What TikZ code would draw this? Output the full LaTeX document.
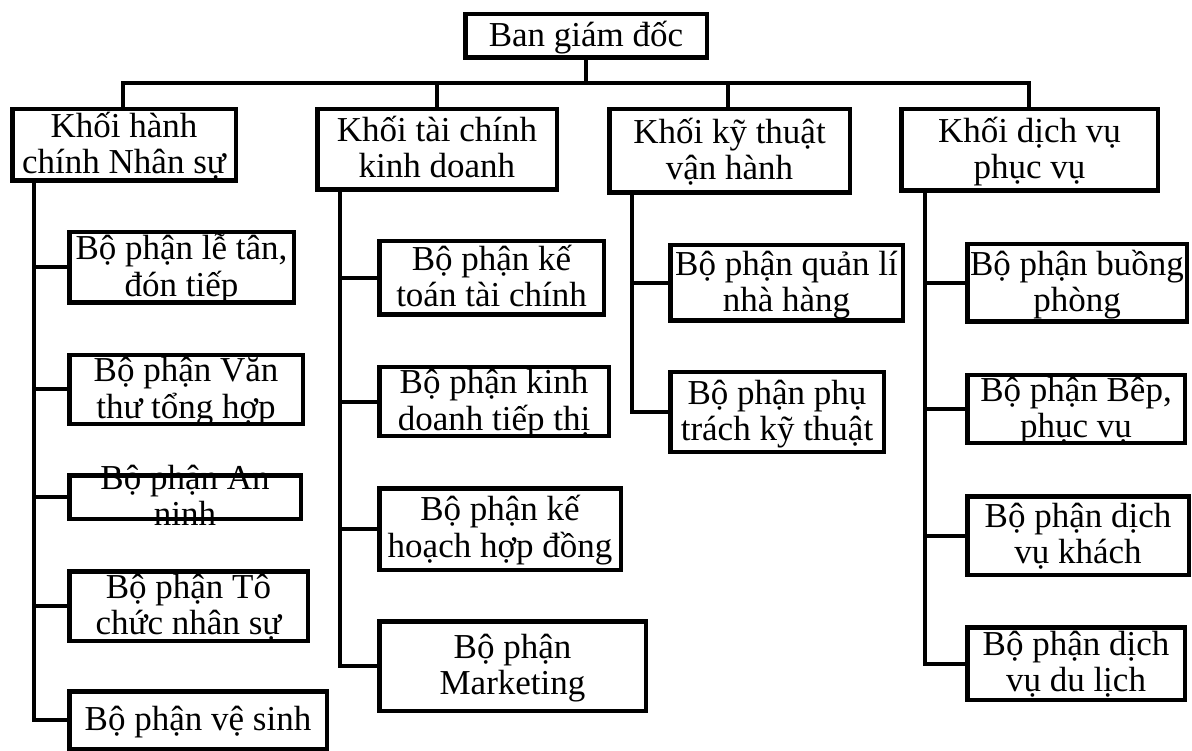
\documentclass[tikz,border=0pt]{standalone}
\usepackage{fontspec}
\setmainfont{Liberation Serif}
\tikzset{
  bxs/.style={draw=black, line width=4.5pt, inner sep=0pt, outer sep=0pt},
  txt/.style={inner sep=0pt, outer sep=0pt, align=center, yshift=-3pt, font=\fontsize{35}{36}\selectfont},
  conn/.style={draw=black, line width=4pt, line join=miter},
}
\newcommand\bx[6]{%
  \node[minimum width={#4-#2-4.5}, minimum height={#5-#3-4.5}, inner sep=0pt, outer sep=0pt] (#1) at ({(#2+#4)/2},{(#3+#5)/2}) {};
  \node[txt] (#1-t) at (#1.center) {#6};
  \draw[bxs] (#1.north west) rectangle (#1.south east);
}
\begin{document}
\begin{tikzpicture}[x=1pt,y=-1pt]
\useasboundingbox (0,0) rectangle (1192,751);
% top
\bx{ban}{463}{12}{709}{60}{\strut Ban giám đốc}
% divisions
\bx{k1}{10}{107}{238}{183}{\strut Khối hành\\\strut chính Nhân sự}
\bx{k2}{315}{107}{559}{192}{\strut Khối tài chính\\\strut kinh doanh}
\bx{k3}{607}{107}{852}{195}{\strut Khối kỹ thuật\\\strut vận hành}
\bx{k4}{899}{107}{1160}{193}{\strut Khối dịch vụ\\\strut phục vụ}
% column 1
\bx{ls}{67}{230}{296}{305}{\strut Bộ phận lễ tân,\\\strut đón tiếp}
\bx{vt}{67}{353}{305}{426}{\strut Bộ phận Văn\\\strut thư tổng hợp}
\bx{an}{67}{473}{303}{521}{\strut Bộ phận An\\\strut ninh}
\bx{tc}{67}{569}{310}{643}{\strut Bộ phận Tô\\\strut chức nhân sự}
\bx{vs}{67}{689}{329}{751}{\strut Bộ phận vệ sinh}
% column 2
\bx{kt}{377}{239}{606}{317}{\strut Bộ phận kế\\\strut toán tài chính}
\bx{kd}{377}{365}{611}{438}{\strut Bộ phận kinh\\\strut doanh tiếp thị}
\bx{kh}{377}{486}{623}{572}{\strut Bộ phận kế\\\strut hoạch hợp đồng}
\bx{mk}{377}{619}{648}{713}{\strut Bộ phận\\\strut Marketing}
% column 3
\bx{ql}{668}{243}{905}{323}{\strut Bộ phận quản lí\\\strut nhà hàng}
\bx{pt}{668}{370}{886}{454}{\strut Bộ phận phụ\\\strut trách kỹ thuật}
% column 4
\bx{bp}{965}{242}{1189}{324}{\strut Bộ phận buồng\\\strut phòng}
\bx{be}{965}{373}{1187}{445}{\strut Bộ phận Bêp,\\\strut phục vụ}
\bx{dk}{965}{494}{1191}{577}{\strut Bộ phận dịch\\\strut vụ khách}
\bx{dl}{965}{625}{1187}{702}{\strut Bộ phận dịch\\\strut vụ du lịch}
% bus
\coordinate (busL) at (123,83);
\coordinate (busR) at (1029,83);
\coordinate (d2) at (437,83);
\coordinate (d3) at (728,83);
\draw[conn] (k1.north -| busL) |- (busR) -- (k4.north -| busR);
\draw[conn] (ban.south) -- (ban.south |- busL);
\draw[conn] (d2) -- (d2 |- k2.north);
\draw[conn] (d3) -- (d3 |- k3.north);
% column spines
\coordinate (c1) at (34,0);
\coordinate (c2) at (340,0);
\coordinate (c3) at (632,0);
\coordinate (c4) at (925,0);
\draw[conn] (k1.south -| c1) |- (vs.west);
\draw[conn] (c1 |- ls.west) -- (ls.west);
\draw[conn] (c1 |- vt.west) -- (vt.west);
\draw[conn] (c1 |- an.west) -- (an.west);
\draw[conn] (c1 |- tc.west) -- (tc.west);
\draw[conn] (k2.south -| c2) |- (mk.west);
\draw[conn] (c2 |- kt.west) -- (kt.west);
\draw[conn] (c2 |- kd.west) -- (kd.west);
\draw[conn] (c2 |- kh.west) -- (kh.west);
\draw[conn] (k3.south -| c3) |- (pt.west);
\draw[conn] (c3 |- ql.west) -- (ql.west);
\draw[conn] (k4.south -| c4) |- (dl.west);
\draw[conn] (c4 |- bp.west) -- (bp.west);
\draw[conn] (c4 |- be.west) -- (be.west);
\draw[conn] (c4 |- dk.west) -- (dk.west);
\end{tikzpicture}
\end{document}
